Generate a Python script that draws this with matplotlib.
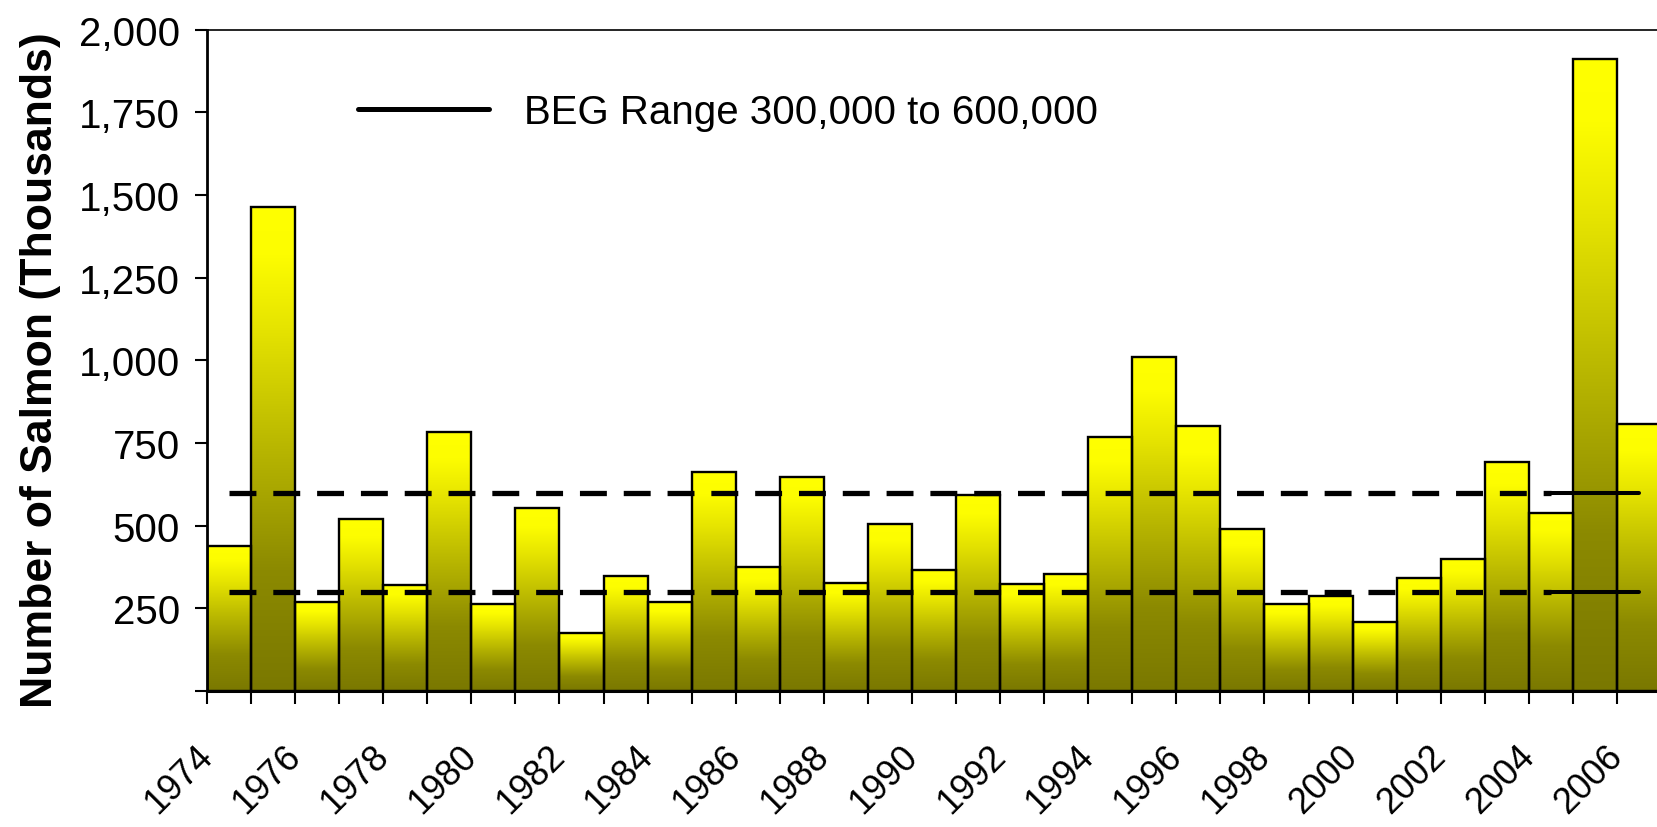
import numpy as np
import matplotlib
matplotlib.use('Agg')
import matplotlib.pyplot as plt
from matplotlib.colors import LinearSegmentedColormap

# escapement by year (thousands of fish)
years = list(range(1974, 2007))
escapement = [440, 1464, 269, 519, 321, 783, 263, 552, 176, 347,
              268, 662, 375, 648, 327, 506, 366, 593, 323, 354,
              769, 1011, 800, 491, 262, 286, 208, 341, 400, 694,
              539, 1911, 806]

# BEG range (thousands)
beg_low = 300
beg_high = 600
dashed_span = (1974, 2004)
solid_span = (2004, 2006)
beg_label = 'BEG Range 300,000 to 600,000'

ytick_vals = [0, 250, 500, 750, 1000, 1250, 1500, 1750, 2000]

plt.rcParams['font.family'] = ['Liberation Sans', 'DejaVu Sans']

W, H = 1657, 828
fig = plt.figure(figsize=(W / 100, H / 100), dpi=100)
ax = fig.add_axes([207 / W, 136 / H, 1454 / W, 661.3 / H])

x = np.arange(len(years))
bars = ax.bar(x, escapement, width=1.0, align='edge', facecolor='none',
              edgecolor='black', linewidth=1.7, zorder=3)

# yellow -> olive gradient inside every bar
fade = LinearSegmentedColormap.from_list('fade', [
    (0.0, '#7a7800'), (0.25, '#8c8a00'), (0.5, '#b8b600'),
    (0.75, '#e6e400'), (0.9, '#fdfd00'), (1.0, '#ffff00')])
grad = np.linspace(0, 1, 256).reshape(-1, 1)
for b in bars:
    im = ax.imshow(grad, cmap=fade, vmin=0, vmax=1, origin='lower', aspect='auto',
                   interpolation='bilinear', zorder=2,
                   extent=(b.get_x(), b.get_x() + b.get_width(), 0, b.get_height()))
    im.set_clip_path(b)

def xc(yr):
    return yr - years[0] + 0.5

for v in (beg_low, beg_high):
    ax.plot([xc(dashed_span[0]), xc(dashed_span[1])], [v, v], color='black',
            lw=3.8, dashes=(5.1, 3.2), zorder=4)
    solid, = ax.plot([xc(solid_span[0]), xc(solid_span[1])], [v, v], color='black',
                     lw=2.9, solid_capstyle='round', zorder=4)

leg = ax.legend([solid], [beg_label], loc='center left',
                bbox_to_anchor=(358 / W, 1 - 112.7 / H), bbox_transform=fig.transFigure,
                frameon=False, fontsize=29, handlelength=3.25, handletextpad=0.88,
                borderpad=0, borderaxespad=0)
leg.get_lines()[0].set_linewidth(3.6)

ax.set_xlim(0, len(years))
ax.set_ylim(0, 2000)

ax.set_yticks(ytick_vals)
ax.set_yticklabels(['' if v == 0 else f'{v:,}' for v in ytick_vals])
ax.tick_params(axis='y', direction='out', length=8.6, width=1.5, pad=11, labelsize=29)

xt = np.arange(len(years) + 1)
ax.set_xticks(xt)
ax.set_xticklabels([str(years[0] + k) if (k % 2 == 0 and k < len(years)) else '' for k in xt])
ax.tick_params(axis='x', direction='out', length=9.6, width=1.5, pad=33, labelsize=26)
for lab in ax.get_xticklabels():
    lab.set_rotation(45)
    lab.set_ha('right')
    lab.set_va('center')
    lab.set_rotation_mode('anchor')

ax.spines['right'].set_visible(False)
ax.spines['top'].set_linewidth(1.2)
ax.spines['left'].set_linewidth(2)
ax.spines['bottom'].set_linewidth(2.2)

fig.text(52 / W, 1 - 370 / H, 'Number of Salmon (Thousands)', rotation=90,
         rotation_mode='anchor', ha='center', va='baseline',
         fontsize=32, fontweight='bold')

fig.savefig('out.png', dpi=100)
